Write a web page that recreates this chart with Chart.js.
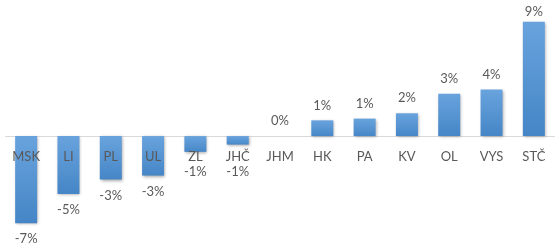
<!DOCTYPE html>
<html>
<head>
<meta charset="utf-8">
<script src="https://cdn.jsdelivr.net/npm/chart.js@4"></script>
<style>
  html, body { margin: 0; padding: 0; background: #fff; }
  #wrap { width: 560px; height: 250px; }
</style>
</head>
<body>
<div id="wrap"><canvas id="chart"></canvas></div>
<script>
// Kraje (kategorie na ose X).
const regions = ['MSK', 'LI', 'PL', 'UL', 'ZL', 'JHČ', 'JHM', 'HK', 'PA', 'KV', 'OL', 'VYS', 'STČ'];
// Meziroční změna v procentech.
const changes = [-6.9, -4.6, -3.45, -3.13, -1.25, -0.67, 0, 1.25, 1.39, 1.81, 3.35, 3.69, 9.06];

const FONT = '13px Lato, "Liberation Sans", sans-serif';
const TEXT = '#595959';

// Přechod barvy pro každý sloupec zvlášť.
const barFill = (ctx) => {
    const chart = ctx.chart;
    const yScale = chart.scales.y;
    if (!yScale || !ctx.parsed) return '#5b9bd5';
    const top = yScale.getPixelForValue(Math.max(ctx.parsed.y, 0));
    const bottom = yScale.getPixelForValue(Math.min(ctx.parsed.y, 0));
    if (!isFinite(top) || !isFinite(bottom)) return '#5b9bd5';
    const g = chart.ctx.createLinearGradient(0, top, 0, bottom + 1);
    g.addColorStop(0, '#68a3dd');
    g.addColorStop(1, '#4585c6');
    return g;
};

// Stín pod sloupci, nulová osa a popisky.
const decorations = {
    id: 'decorations',
    beforeDatasetsDraw(chart) {
        const { ctx, chartArea, scales } = chart;
        const y0 = scales.y.getPixelForValue(0);
        ctx.save();
        ctx.strokeStyle = '#d9d9d9';
        ctx.lineWidth = 1;
        ctx.beginPath();
        ctx.moveTo(chartArea.left, Math.round(y0) + 0.5);
        ctx.lineTo(chartArea.right, Math.round(y0) + 0.5);
        ctx.stroke();
        ctx.restore();
        ctx.save();
        ctx.shadowColor = 'rgba(0,0,0,0.35)';
        ctx.shadowBlur = 3;
        ctx.shadowOffsetX = 1;
        ctx.shadowOffsetY = 1;
    },
    afterDatasetsDraw(chart) {
        const { ctx, scales } = chart;
        ctx.restore();
        const y0 = scales.y.getPixelForValue(0);
        const meta = chart.getDatasetMeta(0);
        ctx.save();
        ctx.font = FONT;
        ctx.fillStyle = TEXT;
        ctx.textAlign = 'center';
        ctx.textBaseline = 'middle';
        regions.forEach((name, i) => {
            const x = scales.x.getPixelForValue(i);
            ctx.fillText(name, x, y0 + 21);
            const v = changes[i];
            const bar = meta.data[i];
            const label = Math.round(v) + '%';
            let ly;
            if (v < 0) {
                ly = Math.max(bar.y, y0 + 20) + 16;
            } else {
                ly = Math.max(bar.y - 15, 12);
            }
            ctx.fillText(label, bar.x, ly);
        });
        ctx.restore();
    }
};

new Chart(document.getElementById('chart'), {
    type: 'bar',
    data: {
        labels: regions,
        datasets: [{
            data: changes,
            backgroundColor: barFill,
            borderWidth: 0,
            barPercentage: 0.52,
            categoryPercentage: 1
        }]
    },
    options: {
        responsive: true,
        maintainAspectRatio: false,
        animation: false,
        layout: { padding: { top: 10, bottom: 13, left: 5, right: 5 } },
        plugins: {
            legend: { display: false },
            tooltip: { enabled: false }
        },
        scales: {
            x: { display: false },
            y: { display: false, min: -8, max: 10 }
        }
    },
    plugins: [decorations]
});
</script>
</body>
</html>
